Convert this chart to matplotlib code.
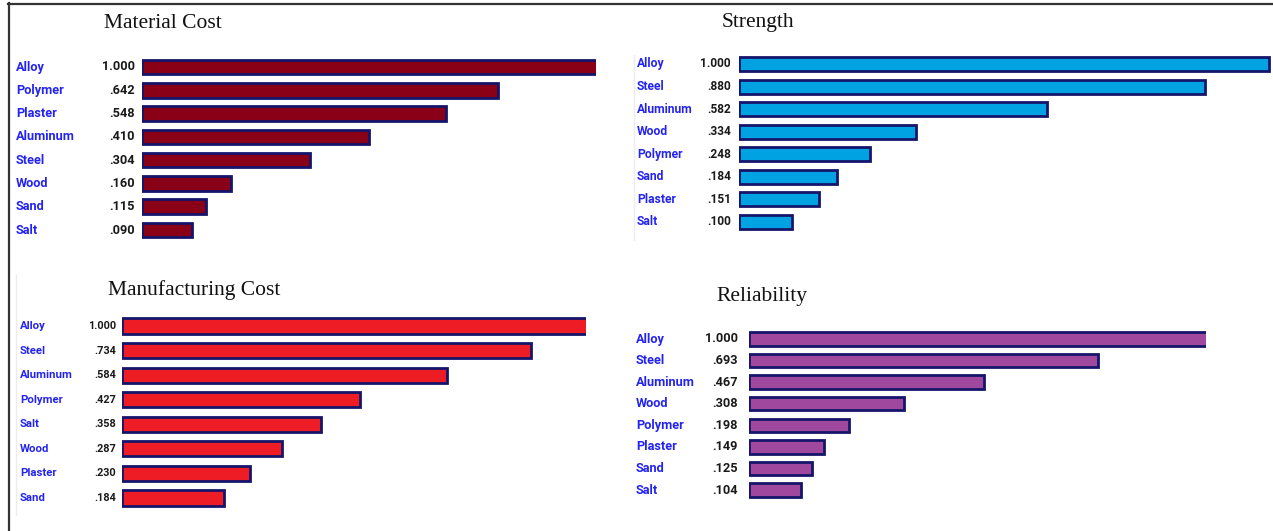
import matplotlib
matplotlib.use("Agg")
import matplotlib.pyplot as plt
from matplotlib import transforms
from matplotlib.lines import Line2D

# ---- data -------------------------------------------------------------
material_names = ["Alloy", "Polymer", "Plaster", "Aluminum", "Steel", "Wood", "Sand", "Salt"]
material_vals = [1.000, 0.642, 0.548, 0.410, 0.304, 0.160, 0.115, 0.090]

strength_names = ["Alloy", "Steel", "Aluminum", "Wood", "Polymer", "Sand", "Plaster", "Salt"]
strength_vals = [1.000, 0.880, 0.582, 0.334, 0.248, 0.184, 0.151, 0.100]

manuf_names = ["Alloy", "Steel", "Aluminum", "Polymer", "Salt", "Wood", "Plaster", "Sand"]
manuf_vals = [1.000, 0.734, 0.584, 0.427, 0.358, 0.287, 0.230, 0.184]

reliab_names = ["Alloy", "Steel", "Aluminum", "Wood", "Polymer", "Plaster", "Sand", "Salt"]
reliab_vals = [1.000, 0.693, 0.467, 0.308, 0.198, 0.149, 0.125, 0.104]

W, H = 1273, 531
DPI = 100

LABEL_FONT = "Roboto"
TITLE_FONT = "Liberation Serif"
EDGE = "#15156b"
LABEL_BLUE = "#2424f2"

fig = plt.figure(figsize=(W / DPI, H / DPI), dpi=DPI)
fig.patch.set_facecolor("white")


def px(x, y):
    """figure pixel (from top-left) -> figure fraction"""
    return x / W, 1 - y / H


def panel(title, title_xy, names, vals, color, bar_left, bar_right, ppu,
          first_y, last_y, label_x, value_x, name_size, value_size):
    n = len(names)
    step = (last_y - first_y) / (n - 1)
    top = first_y - step / 2
    bottom = last_y + step / 2
    xmax = (bar_right - bar_left) / ppu
    ax = fig.add_axes([bar_left / W, 1 - bottom / H,
                       (bar_right - bar_left) / W, (bottom - top) / H])
    ax.barh(range(n), vals, height=0.62, color=color, edgecolor=EDGE,
            linewidth=2.0, clip_on=True)
    ax.set_xlim(0, xmax)
    ax.set_ylim(n - 0.5, -0.5)
    ax.axis("off")

    tr = transforms.blended_transform_factory(fig.transFigure, ax.transData)
    for i, (nm, v) in enumerate(zip(names, vals)):
        ax.text(label_x / W, i, nm, transform=tr, ha="left", va="center",
                color=LABEL_BLUE, fontsize=name_size, fontweight="bold",
                family=LABEL_FONT, clip_on=False)
        txt = f"{v:.3f}"
        if txt.startswith("0"):
            txt = txt[1:]
        ax.text(value_x / W, i, txt, transform=tr, ha="right", va="center",
                color="#1a1a1a", fontsize=value_size, fontweight="bold",
                family=LABEL_FONT, clip_on=False)

    tx, ty = px(*title_xy)
    fig.text(tx, ty, title, ha="center", va="center", family=TITLE_FONT,
             fontsize=15.5, color="#111111")
    return ax


panel("Material Cost", (163, 24), material_names, material_vals, "#8a0016",
      142, 596, 554, 67, 230, 16, 135, 9.2, 9.2)
panel("Strength", (758, 23), strength_names, strength_vals, "#00a2e2",
      739, 1273, 530, 64, 222, 637, 731, 8.7, 8.6)
panel("Manufacturing Cost", (194, 290), manuf_names, manuf_vals, "#ee1c24",
      122, 586, 557, 326, 498, 20, 116, 8.2, 7.8)
panel("Reliability", (762, 296), reliab_names, reliab_vals, "#a0489e",
      749, 1206, 503, 339, 490, 636, 738, 9.2, 9.2)

# faint panel guides on the left of two panels
fig.add_artist(Line2D([634 / W, 634 / W], [1 - 240 / H, 1 - 55 / H], color="#ececf4", lw=1.0))
fig.add_artist(Line2D([16 / W, 16 / W], [1 - 515 / H, 1 - 275 / H], color="#ececec", lw=1.0))

# outer frame: top and left rules
fig.add_artist(Line2D([8 / W, 1], [1 - 3.5 / H, 1 - 3.5 / H], color="#333333", lw=1.6))
fig.add_artist(Line2D([8.5 / W, 8.5 / W], [0, 1 - 3 / H], color="#333333", lw=1.6))

fig.savefig("out.png", dpi=DPI, facecolor="white")
